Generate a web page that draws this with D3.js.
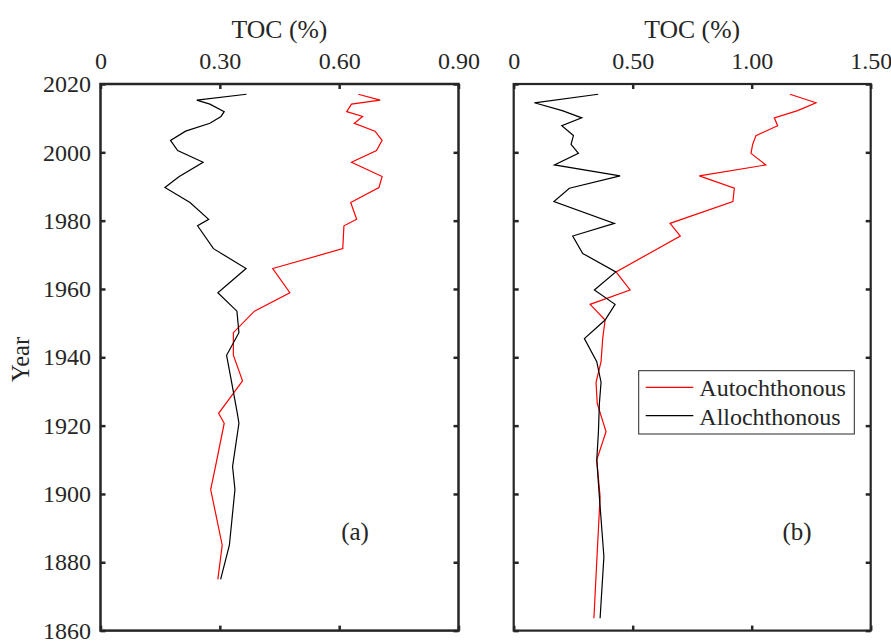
<!DOCTYPE html>
<html>
<head>
<meta charset="utf-8">
<script src="https://cdn.jsdelivr.net/npm/d3@7"></script>
<style>
  html, body { margin: 0; padding: 0; background: #fff; }
  svg { display: block; }
</style>
</head>
<body>
<svg id="chart" width="891" height="642"></svg>
<script>
// Sediment core TOC profiles: autochthonous vs allochthonous organic carbon
const yearTicks = [2020, 2000, 1980, 1960, 1940, 1920, 1900, 1880, 1860];

// Panel (a)
const xTicksA = [0, 0.30, 0.60, 0.90];
const xTickLabelsA = ["0", "0.30", "0.60", "0.90"];
const yearsA = [2017.0, 2015.3, 2014.1, 2011.9, 2010.5, 2008.5, 2006.2, 2003.5, 2000.5, 1997.1,
                1992.9, 1989.7, 1985.3, 1980.4, 1978.5, 1971.8, 1966.0, 1958.9, 1953.5, 1947.2,
                1940.6, 1933.1, 1923.6, 1920.7, 1908.0, 1901.3, 1885.0, 1875.0];
const autoA = [0.648, 0.703, 0.631, 0.619, 0.659, 0.638, 0.690, 0.708, 0.694, 0.631,
               0.708, 0.700, 0.629, 0.644, 0.612, 0.609, 0.433, 0.476, 0.387, 0.334,
               0.334, 0.357, 0.297, 0.311, 0.289, 0.277, 0.306, 0.295];
const alloA = [0.367, 0.242, 0.275, 0.311, 0.303, 0.275, 0.214, 0.176, 0.194, 0.258,
               0.198, 0.162, 0.225, 0.272, 0.244, 0.284, 0.366, 0.295, 0.343, 0.348,
               0.317, 0.329, 0.344, 0.348, 0.332, 0.338, 0.324, 0.302];

// Panel (b)
const xTicksB = [0, 0.50, 1.00, 1.50];
const xTickLabelsB = ["0", "0.50", "1.00", "1.50"];
const yearsB = [2017.0, 2014.5, 2012.2, 2010.1, 2007.8, 2004.9, 2002.3, 1999.7, 1996.3, 1993.1,
                1989.5, 1985.6, 1979.2, 1975.5, 1970.4, 1965.0, 1959.7, 1955.5, 1950.9, 1945.5,
                1938.7, 1932.7, 1926.5, 1918.2, 1910.0, 1899.2, 1881.6, 1863.6];
const autoB = [1.161, 1.270, 1.193, 1.095, 1.109, 1.018, 1.004, 0.997, 1.059, 0.780,
               0.927, 0.921, 0.657, 0.700, 0.569, 0.430, 0.489, 0.321, 0.384, 0.374,
               0.367, 0.346, 0.351, 0.388, 0.349, 0.363, 0.350, 0.337];
const alloB = [0.355, 0.087, 0.204, 0.286, 0.202, 0.251, 0.241, 0.272, 0.171, 0.447,
               0.234, 0.169, 0.423, 0.248, 0.290, 0.429, 0.339, 0.426, 0.384, 0.297,
               0.349, 0.367, 0.360, 0.356, 0.349, 0.360, 0.379, 0.363];

const seriesNames = ["Autochthonous", "Allochthonous"];
const seriesColors = ["#ff0000", "#000000"];
const axisTitle = "TOC (%)";
const yTitle = "Year";

const FONT = "'Liberation Serif', 'Times New Roman', Times, serif";
const INK = "#262626";

const svg = d3.select("#chart");
const plotTop = 84, plotBottom = 630.6;
const y = d3.scaleLinear().domain([2020, 1860]).range([plotTop, plotBottom]);

function panel(opts) {
  const x = d3.scaleLinear().domain(opts.domain).range(opts.range);
  const g = svg.append("g");
  const [x0, x1] = opts.range;

  // data lines
  const line = (vals, yrs) => d3.line().x((d) => x(d)).y((d, i) => y(yrs[i]))(vals);
  g.append("path").attr("d", line(opts.auto, opts.years))
    .attr("fill", "none").attr("stroke", seriesColors[0]).attr("stroke-width", 1.2);
  g.append("path").attr("d", line(opts.allo, opts.years))
    .attr("fill", "none").attr("stroke", seriesColors[1]).attr("stroke-width", 1.2);

  // top axis with labels
  const fmt = (d) => opts.labels[opts.ticks.indexOf(d)];
  const axTop = g.append("g").attr("transform", `translate(0,${plotTop})`)
    .call(d3.axisTop(x).tickValues(opts.ticks).tickFormat(fmt).tickSize(-5).tickPadding(15));

  const axBot = g.append("g").attr("transform", `translate(0,${plotBottom})`)
    .call(d3.axisBottom(x).tickValues(opts.ticks).tickFormat("").tickSize(-5));

  const axLeft = g.append("g").attr("transform", `translate(${x0},0)`)
    .call(d3.axisLeft(y).tickValues(yearTicks)
      .tickFormat(opts.yLabels ? d3.format("d") : "").tickSize(-5).tickPadding(9.5));

  const axRight = g.append("g").attr("transform", `translate(${x1},0)`)
    .call(d3.axisRight(y).tickValues(yearTicks).tickFormat("").tickSize(-5));

  [axTop, axBot, axLeft, axRight].forEach(a => {
    a.attr("font-family", null).attr("font-size", null);
    a.select(".domain").remove();
    a.selectAll(".tick line").attr("stroke", INK).attr("stroke-width", 2.5);
    a.selectAll(".tick text").style("font-size", "24px");
  });

  // frame
  g.append("rect").attr("x", x0).attr("y", plotTop)
    .attr("width", x1 - x0).attr("height", plotBottom - plotTop)
    .attr("fill", "none").attr("stroke", INK).attr("stroke-width", opts.frameWidth);

  // axis title
  g.append("text").attr("x", (x0 + x1) / 2).attr("y", 38)
    .attr("text-anchor", "middle").style("font-size", "25.7px").text(axisTitle);

  // panel tag
  g.append("text").attr("x", opts.tagX).attr("y", 540)
    .attr("text-anchor", "middle").style("font-size", "25px").text(opts.tag);

  return { g, x };
}

panel({ domain: [0, 0.9], range: [100.5, 458.5], ticks: xTicksA, labels: xTickLabelsA,
        years: yearsA, auto: autoA, allo: alloA, yLabels: true, tag: "(a)", tagX: 355,
        frameWidth: 2.5 });
panel({ domain: [0, 1.5], range: [513.7, 870.7], ticks: xTicksB, labels: xTickLabelsB,
        years: yearsB, auto: autoB, allo: alloB, yLabels: false, tag: "(b)", tagX: 797,
        frameWidth: 2.2 });

// y-axis title
svg.append("text").attr("transform", "translate(28.5,359.5) rotate(-90)")
  .attr("text-anchor", "middle").style("font-size", "24.5px").text(yTitle);

// legend
const leg = svg.append("g").attr("transform", "translate(638.7,370.7)");
leg.append("rect").attr("width", 215.6).attr("height", 63.3)
  .attr("fill", "#fff").attr("stroke", INK).attr("stroke-width", 1);
seriesNames.forEach((name, i) => {
  const ly = 16.6 + i * 28.4;
  leg.append("line").attr("x1", 7).attr("x2", 54.6).attr("y1", ly).attr("y2", ly)
    .attr("stroke", seriesColors[i]).attr("stroke-width", 1.2);
  leg.append("text").attr("x", 60.6).attr("y", ly + 9)
    .style("font-size", "24px").text(name);
});

// one typeface and ink colour for every label
svg.selectAll("text").style("font-family", FONT).attr("fill", INK);
</script>
</body>
</html>
